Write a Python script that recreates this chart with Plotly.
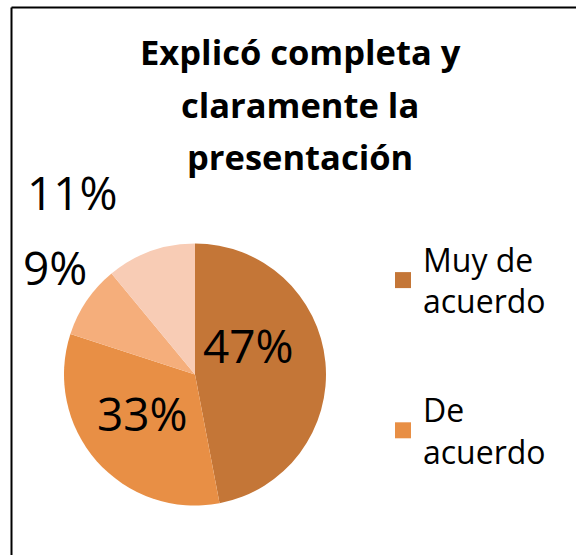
import plotly.graph_objects as go

TITLE_LINES = ["Explicó completa y", "claramente la", "presentación"]
CATEGORIES = ["Muy de acuerdo", "De acuerdo", "Ni de acuerdo ni en desacuerdo", "En desacuerdo"]
LEGEND_LABELS = ["Muy de<br>acuerdo", "De<br>acuerdo"]
VALUES = [47, 33, 9, 11]
COLORS = ["#C47637", "#E88F45", "#F5AE7B", "#F8CCB5"]

FONT = "Open Sans"
W, H = 576, 555

fig = go.Figure()

fig.add_trace(go.Pie(
    labels=CATEGORIES,
    values=VALUES,
    sort=False,
    direction="clockwise",
    rotation=0,
    marker=dict(colors=COLORS, line=dict(width=0)),
    textinfo="none",
    showlegend=False,
    hoverinfo="label+percent",
    domain=dict(x=[64 / W, 326 / W], y=[1 - 505.5 / H, 1 - 243.5 / H]),
))

for i, lab in enumerate(LEGEND_LABELS):
    fig.add_trace(go.Scatter(
        x=[None], y=[None], mode="markers", name=lab,
        legendgroup=f"g{i}",
        marker=dict(symbol="square", size=20, color=COLORS[i]),
    ))

annotations = []
title_y = [67, 120, 172]
for line, yb in zip(TITLE_LINES, title_y):
    annotations.append(dict(
        text=f"<b>{line}</b>", x=300 / W, y=1 - yb / H, xref="paper", yref="paper",
        xanchor="center", yanchor="bottom", showarrow=False, yshift=-10,
        font=dict(family=FONT, size=34.5, color="black"),
    ))

# data label positions (pixel centres as laid out in the reference)
label_pos = [(248, 345), (142, 413), (55, 267), (72, 192)]
for v, (px, py) in zip(VALUES, label_pos):
    annotations.append(dict(
        text=f"{v}%", x=px / W, y=1 - py / H, xref="paper", yref="paper",
        xanchor="center", yanchor="middle", showarrow=False,
        font=dict(family=FONT, size=46, color="black"),
    ))

fig.update_layout(
    width=W, height=H,
    margin=dict(l=0, r=0, t=0, b=0),
    paper_bgcolor="white", plot_bgcolor="white",
    xaxis=dict(visible=False), yaxis=dict(visible=False),
    showlegend=True,
    legend=dict(
        x=383 / W, y=1 - 232 / H, xanchor="left", yanchor="top",
        font=dict(family=FONT, size=32, color="black"),
        tracegroupgap=64, itemwidth=30, bgcolor="rgba(0,0,0,0)",
    ),
    annotations=annotations,
    shapes=[
        dict(type="line", xref="paper", yref="paper", x0=11.5 / W, x1=1, y0=1 - 7.5 / H, y1=1 - 7.5 / H,
             line=dict(color="black", width=2)),
        dict(type="line", xref="paper", yref="paper", x0=11.5 / W, x1=11.5 / W, y0=0, y1=1 - 7.5 / H,
             line=dict(color="black", width=2)),
    ],
)

fig.write_html("out.html", config={"displayModeBar": False},
               post_script="document.body.style.margin='0';document.body.style.overflow='hidden';")
